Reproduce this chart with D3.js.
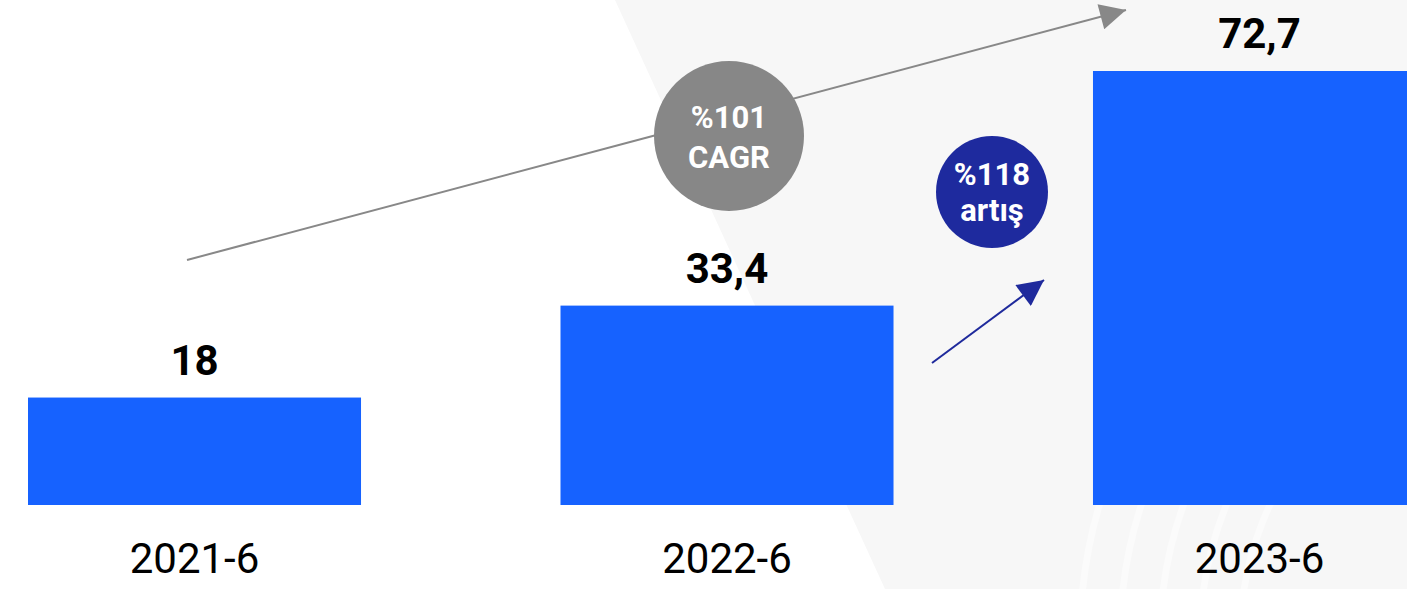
<!DOCTYPE html>
<html>
<head>
<meta charset="utf-8">
<script src="https://cdn.jsdelivr.net/npm/d3@7"></script>
<style>
  body { margin: 0; background: #fff; }
  svg { display: block; font-family: Roboto, "Noto Sans", sans-serif; }
</style>
</head>
<body>
<svg width="1407" height="589"></svg>
<script>
// data
var periods = ["2021-6", "2022-6", "2023-6"];
var values = [18, 33.4, 72.7];
var valueLabels = ["18", "33,4", "72,7"];
var cagrLabel = ["%101", "CAGR"];
var growthLabel = ["%118", "artış"];

var svg = d3.select("svg"),
    width = +svg.attr("width"),
    height = +svg.attr("height");

var baseline = 505;

var x = d3.scaleBand()
    .domain(periods)
    .range([28, 1426])
    .paddingInner(0.3746)
    .paddingOuter(0);

var y = d3.scaleLinear()
    .domain([0, 72.7])
    .range([baseline, 71]);

// background diagonal panel
svg.append("path")
    .attr("d", "M615,0L" + width + ",0L" + width + "," + height + "L885," + height + "Z")
    .style("fill", "#f7f7f7");

// faint white arcs on the right
var arcs = svg.append("g").style("fill", "none").style("stroke", "#ffffff");
[320, 360, 400, 440, 480].forEach(function (r) {
  arcs.append("circle")
      .attr("cx", 1560)
      .attr("cy", 640)
      .attr("r", r)
      .style("stroke-width", 7)
      .style("opacity", 0.45);
});

var defs = svg.append("defs");
function marker(id, color) {
  defs.append("marker")
      .attr("id", id)
      .attr("viewBox", "0 0 10 10")
      .attr("refX", 10)
      .attr("refY", 5)
      .attr("markerUnits", "userSpaceOnUse")
      .attr("markerWidth", 32)
      .attr("markerHeight", 26)
      .attr("orient", "auto")
    .append("path")
      .attr("d", "M0,0L10,5L0,10Z")
      .style("fill", color);
}
marker("head-gray", "#888888");
marker("head-navy", "#1f2a9c");

// bars
svg.selectAll(".bar")
    .data(values)
    .enter().append("rect")
    .attr("class", "bar")
    .attr("x", function (d, i) { return x(periods[i]); })
    .attr("y", function (d) { return y(d); })
    .attr("width", x.bandwidth())
    .attr("height", function (d) { return baseline - y(d); })
    .style("fill", "#1662ff");

// value labels
svg.selectAll(".value")
    .data(values)
    .enter().append("text")
    .attr("class", "value")
    .attr("x", function (d, i) { return x(periods[i]) + x.bandwidth() / 2; })
    .attr("y", function (d) { return y(d) - 23; })
    .attr("text-anchor", "middle")
    .style("font-size", "42px")
    .style("font-weight", "bold")
    .style("fill", "#000")
    .text(function (d, i) { return valueLabels[i]; });

// category labels
svg.selectAll(".period")
    .data(periods)
    .enter().append("text")
    .attr("class", "period")
    .attr("x", function (d) { return x(d) + x.bandwidth() / 2; })
    .attr("y", 573)
    .attr("text-anchor", "middle")
    .style("font-size", "42px")
    .style("fill", "#000")
    .text(function (d) { return d; });

// CAGR arrow
svg.append("line")
    .attr("x1", 187).attr("y1", 260)
    .attr("x2", 1126).attr("y2", 10)
    .style("stroke", "#888888")
    .style("stroke-width", 2)
    .attr("marker-end", "url(#head-gray)");

// growth arrow
svg.append("line")
    .attr("x1", 932).attr("y1", 363)
    .attr("x2", 1044).attr("y2", 280)
    .style("stroke", "#1f2a9c")
    .style("stroke-width", 2)
    .attr("marker-end", "url(#head-navy)");

function badge(cx, cy, r, color, lines, y0, dy) {
  var g = svg.append("g");
  g.append("circle")
      .attr("cx", cx).attr("cy", cy).attr("r", r)
      .style("fill", color);
  g.selectAll("text")
      .data(lines)
      .enter().append("text")
      .attr("x", cx)
      .attr("y", function (d, i) { return y0 + i * dy; })
      .attr("text-anchor", "middle")
      .style("font-size", "31px")
      .style("font-weight", "bold")
      .style("fill", "#fff")
      .text(function (d) { return d; });
}

badge(729, 136, 75, "#878787", cagrLabel, 128, 40);
badge(992, 192, 56, "#1e2a9e", growthLabel, 185, 36);
</script>
</body>
</html>
